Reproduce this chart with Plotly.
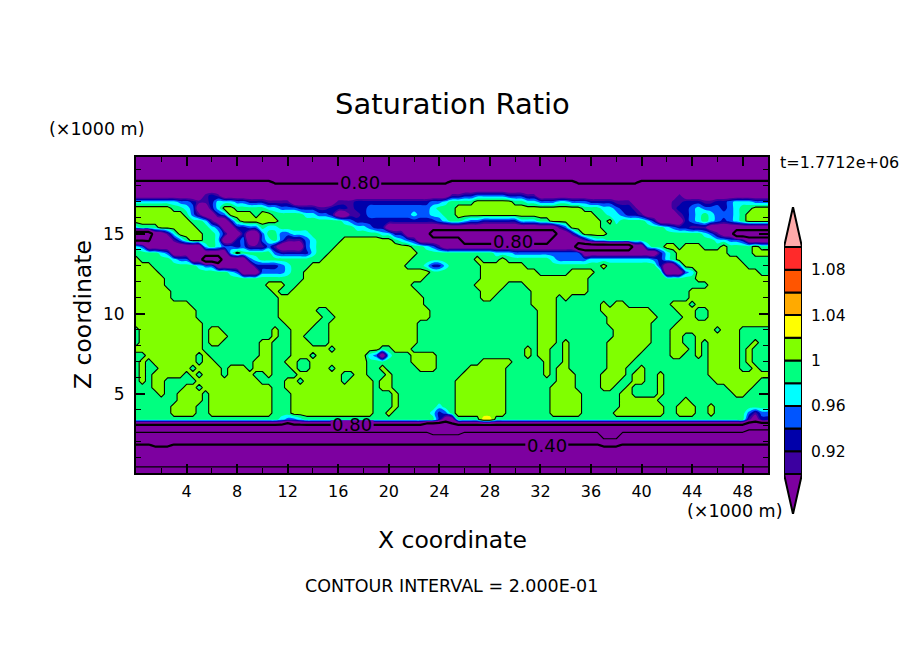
import numpy as np
import plotly.graph_objects as go

# saturation ratio per map letter
LETTER_VALUES = {
    "a": 0.12, "b": 0.17, "c": 0.22, "d": 0.27, "f": 0.33, "g": 0.39, "m": 0.42,
    "h": 0.50, "o": 0.55, "i": 0.60, "q": 0.66, "n": 0.68, "T": 0.72, "j": 0.76,
    "e": 0.79, "E": 0.83, "P": 0.86, "G": 0.91, "H": 0.93, "B": 0.95, "C": 0.97,
    "K": 0.99, "L": 1.01, "Y": 1.03,
}

# one row per height from top to bottom: "<first column><letter>" runs, 101 columns
FIELD_ROWS = [
    "0T", "0T", "0T", "0T",
    "0E 22e 50E 70e 80E",
    "0P",
    "0P 11G 12H 13G 14P 50G 52H 54B 59H 62G 64P 86G 87P",
    "0C 7B 9H 10G 12H 13C 16B 18H 21G 25P 32G 35H 47B 49C 50K 54L 60K 62C 64B 67C 69B 72H 76G 79P 85G 87H 90G 92H 94B 95C 98B",
    "0L 6K 8C 9B 10P 12H 13C 14L 16K 21C 23B 26H 29G 31H 34G 35H 37B 47C 48K 51L 71K 74C 76B 77H 79G 80P 85G 86H 88B 89C 90B 93H 94B 95C 96K 98L",
    "0L 8K 9B 10G 11P 13H 14B 15L 19K 20L 22K 27C 29B 31H 32P 34G 36H 37B 44C 45B 47C 49K 51L 73K 75C 77B 78H 80G 81P 86G 87H 88B 89C 90K 91C 92B 95C 96K 97L",
    "0L 9K 11C 12G 13P 15H 16K 17L 23K 33C 34B 35H 48B 49C 50K 52C 53B 55H 61C 64K 66L 74K 75L 76C 77K 81C 82H 83P 87H 88B 89C 90K 91C 92B 93H 94B 95C 96K 97L",
    "0C 1K 4L 10K 12C 13B 14P 16H 18B 20K 21C 23K 35C 37B 38H 40P 67G 68B 69L 74K 84C 85B 86H 88G 91P",
    "0T 3P 5G 6C 7L 11K 13C 14H 15P 17H 18P 20B 21K 23B 25C 28K 39C 41H 43P 47T 67P 69G 70C 71L 75K 90C 91B 92G 93P 95T",
    "0e 3P 6G 7B 8K 9L 11K 13C 14P 16H 17B 18P 20B 21C 22K 23B 24G 27B 28C 29K 33L 41K 42C 43B 44H 45P 52T 66P 71G 72B 73C 75K 92C 94B 96H 97P",
    "0C 1B 2P 11C 12K 13C 14B 16H 17B 18G 21B 22G 23P 27B 28C 29K 32L 44K 46C 47B 48G 49P 70T 79P 81C 82K 84L 86K 87L 90K 93L 94K 98L 99K",
    "0K 4C 5B 6P 15C 16L 17K 22B 23H 28C 29K 31L 45K 57C 60B 71P 83H 84C 85K 86L 94K 98L",
    "0L 1K 6C 7B 9P 11T 14P 18B 19C 20K 30L 44K 54L 55K 58L 59K 66C 67B 72C 82B 83H 84C 85K 86L 96K",
    "0L 3K 10C 11B 13P 19H 23B 24C 25K 28L 43K 46C 47H 49C 50K 55L 62K 74L 75K 83H 84P 86B 87L 97K",
    "0L 4K 15C 16B 17P 20B 24C 25K 27L 47K 55L 64K 69L 73K 84P 87B 88C 89L 99K",
    "0L 5K 27L 46K 55L 72K 89L",
    "0L 5K 21L 24K 26L 44K 54L 59K 62L 72K 91L",
    "0L 6K 22L 23K 25L 45K 55L 58K 63L 72K 88L",
    "0L 6K 23L 46K 55L 57K 63L 67K 68L 69K 88L",
    "0L 9K 23L 46K 63L 67K 74L 75K 76L 78K 85L 88K 89L",
    "0L 10K 23L 29K 31L 47K 64L 67K 74L 82K 86L 89K 91L",
    "0L 10K 23L 30K 32L 47K 64L 67K 75L 83K 87L 89K 91L",
    "0L 11K 24L 29K 31L 45K 64L 67K 75L 82K 86L",
    "0K 1L 11K 12L 14K 22L 23K 25L 28K 31L 45K 64L 67K 76L 82K 85L 92K 93L 96K",
    "0K 1L 11K 12L 15K 22L 23K 25L 27K 31L 45K 64L 67K 76L 82K 85L 87K 89L 96K",
    "0K 1L 11K 12L 14K 20L 22K 25L 28K 31L 45K 64L 67K 68L 69K 75L 82K 85L 87K 89L 90K 91L 96K 98L 99K",
    "0L 11K 20L 22K 25L 31K 32L 39K 41L 44K 62L 63K 64L 66K 68L 69K 75L 81K 85L 88K 89L 90K 91L 96K 97L 98K",
    "0K 2L 10K 11L 12K 20L 22K 25L 28K 29L 37C 38B 39P 40C 41K 44L 48K 62L 63K 64L 66K 68L 69K 75L 80K 85L 87K 89L 90K 91L 96K 97L 98K",
    "0K 1L 2K 3L 10K 11L 13K 19L 22K 24L 26K 28L 37K 44L 48K 55L 60K 65L 66K 68L 69K 75L 79K 91L 96K 97L 98K",
    "0K 1L 2K 4L 9K 10L 14K 15L 18K 19L 22K 25L 26K 28L 31K 32L 37K 39L 40K 45L 48K 53L 59K 65L 66K 67L 69K 75L 78K 80L 81K 91L 96K 98L 99K",
    "0K 1L 2K 3L 8K 9L 10K 11L 14K 15L 19K 21L 22K 26L 33K 35L 37K 40L 41K 52L 59K 65L 66K 67L 70K 74L 78K 79L 81K 83L 84K 91L",
    "0K 1L 2K 3L 5K 10L 20K 24L 26K 27L 33K 34L 38K 39L 41K 51L 59K 67L 70K 74L 77K 79L 81K 83L 84K 92L 99K",
    "0K 3L 5K 8L 10K 11L 22K 24L 38K 39L 41K 51L 59K 66L 70K 74L 76K 78L 79K 83L 84K 94L 98K",
    "0K 4L 5K 7L 11K 12L 22K 25L 38K 41L 42K 51L 59K 66L 71K 77L 79K 83L 84K 95L 97K",
    "0K 7L 11K 12L 22K 25L 38K 41L 42K 51L 59K 66L 71K 77L 83K 87L 88K",
    "0K 6L 10K 12L 22K 25L 38K 41L 42K 48C 49K 51L 59K 66L 71K 77L 84K 86L 89K 91L 92K",
    "0K 6L 10K 12L 22K 25L 38K 40L 41K 47C 48H 49B 50K 51L 59K 66L 71K 76L 84K 86L 89K 91L 92K 97B 98G 99B",
    "0K 23C 24B 26C 27K 48H 49P 51K 55Y 57K 97G 98P 99H",
    "0j 24n 25j 46n 50j 97n",
    "0i 47q 52i 74q 77i 97o",
    "0h 74i 77h",
    "0g 3m 6g 74m 77g",
    "0f", "0d", "0c", "0b", "0a",
]

X_STEP = 0.5
TOP_HEIGHT = 19.8
ROW_STEP = 0.4

CONTOUR_START = 0.90
CONTOUR_END = 1.10
CONTOUR_STEP = 0.02

BAND_COLORS = [
    "#7D00A0", "#3C00A0", "#0000AA", "#0055FF", "#00FFFF", "#00FF80",
    "#80FF00", "#FFFF00", "#FFAA00", "#FF5500", "#FF2A2A", "#FFAAAA",
]
CELL_LEVELS = [0.90, 0.92, 0.94, 0.96, 0.98, 1.00, 1.02, 1.04, 1.06, 1.08]

THICK_LEVELS = [0.4, 0.8]
THIN_LEVELS = [0.2, 0.6, 1.0]

X_TICKS = [4, 8, 12, 16, 20, 24, 28, 32, 36, 40, 44, 48]
Y_TICKS = [5, 10, 15]
BAR_TICKS = [0.92, 0.96, 1.0, 1.04, 1.08]
BAR_LABELS = ["0.92", "0.96", "1", "1.04", "1.08"]

# inline labels on the contour lines: x, z, text
LINE_LABEL_X = [17.7, 17.1, 32.5, 29.8]
LINE_LABEL_Y = [18.2, 3.1, 1.8, 14.5]
LINE_LABEL_TEXT = ["0.80", "0.80", "0.40", "0.80"]

W, H = 904, 654
FONT = "DejaVu Sans"


def expand_row(row, n_cols=101):
    tokens = row.split()
    values = [0.0] * n_cols
    for i, tok in enumerate(tokens):
        start = int(tok[:-1])
        stop = int(tokens[i + 1][:-1]) if i + 1 < len(tokens) else n_cols
        for c in range(start, stop):
            values[c] = LETTER_VALUES[tok[-1]]
    return values


z = np.array([expand_row(r) for r in FIELD_ROWS])
x = np.arange(z.shape[1]) * X_STEP
y = TOP_HEIGHT - np.arange(z.shape[0]) * ROW_STEP

fig = go.Figure()

fig.add_trace(go.Contour(
    x=x, y=y, z=z,
    autocontour=False,
    contours=dict(start=CONTOUR_START, end=CONTOUR_END, size=CONTOUR_STEP, coloring="fill", showlines=False),
    colorscale=[[i / (len(BAND_COLORS) - 1), c] for i, c in enumerate(BAND_COLORS)],
    line=dict(width=0),
    showscale=False,
    hoverinfo="skip",
))

# black contour lines, thick and thin ones alternate
for levels, width in [(THICK_LEVELS, 2.2), (THIN_LEVELS, 1.1)]:
    for lev in levels:
        fig.add_trace(go.Contour(
            x=x, y=y, z=z,
            autocontour=False,
            contours=dict(start=lev, end=lev, size=1, coloring="none"),
            line=dict(color="black", width=width, smoothing=0),
            showscale=False,
            hoverinfo="skip",
        ))

# colour bar built from its own axes
for lev, color in zip(CELL_LEVELS, BAND_COLORS[1:11]):
    fig.add_trace(go.Bar(
        x=[0], y=[CONTOUR_STEP], base=[lev], width=[1],
        marker=dict(color=color, line=dict(color="black", width=2)),
        xaxis="x2", yaxis="y2", showlegend=False, hoverinfo="skip",
    ))
tip = 0.0353
fig.add_trace(go.Scatter(
    x=[-0.5, 0, 0.5, -0.5], y=[CONTOUR_END, CONTOUR_END + tip, CONTOUR_END, CONTOUR_END],
    mode="lines", fill="toself", fillcolor=BAND_COLORS[-1], line=dict(color="black", width=2),
    xaxis="x2", yaxis="y2", showlegend=False, hoverinfo="skip",
))
fig.add_trace(go.Scatter(
    x=[-0.5, 0, 0.5, -0.5], y=[CONTOUR_START, CONTOUR_START - tip, CONTOUR_START, CONTOUR_START],
    mode="lines", fill="toself", fillcolor=BAND_COLORS[0], line=dict(color="black", width=2),
    xaxis="x2", yaxis="y2", showlegend=False, hoverinfo="skip",
))

axis_common = dict(
    showgrid=False, zeroline=False, showline=True, linecolor="black", linewidth=2,
    mirror="ticks", ticks="inside", ticklen=9, tickwidth=2, tickcolor="black",
    layer="above traces",
)
fig.update_layout(
    width=W, height=H,
    margin=dict(l=0, r=0, t=0, b=0),
    paper_bgcolor="white", plot_bgcolor="white",
    showlegend=False,
    barmode="overlay",
    font=dict(family=FONT, color="black"),
    xaxis=dict(
        domain=[136 / W, 768 / W], range=[0, 50],
        tickmode="array", tickvals=X_TICKS, ticktext=[str(v) for v in X_TICKS],
        ticklabelstandoff=3,
        tickfont=dict(family=FONT, size=16, color="black"),
        minor=dict(ticks="inside", dtick=2, tick0=0, ticklen=5, tickwidth=1, tickcolor="black"),
        **axis_common,
    ),
    yaxis=dict(
        domain=[1 - 473 / H, 1 - 157 / H], range=[0.06, 19.8],
        tickmode="array", tickvals=Y_TICKS, ticktext=[str(v) for v in Y_TICKS],
        ticklabelstandoff=6,
        tickfont=dict(family=FONT, size=17, color="black"),
        minor=dict(ticks="inside", dtick=1, tick0=0, ticklen=5, tickwidth=1, tickcolor="black"),
        **axis_common,
    ),
    xaxis2=dict(
        domain=[784 / W, 802 / W], range=[-0.5, 0.5], anchor="y2", visible=False,
    ),
    yaxis2=dict(
        domain=[1 - 514 / H, 1 - 207 / H], range=[CONTOUR_START - tip, CONTOUR_END + tip],
        anchor="x2", side="right", showgrid=False, zeroline=False, showline=False,
        tickmode="array", tickvals=BAR_TICKS, ticktext=BAR_LABELS, ticks="",
        ticklabelstandoff=8,
        tickfont=dict(family=FONT, size=15.5, color="black"),
    ),
)


def page_text(px, py, text, size, anchor="center", angle=0):
    fig.add_annotation(
        x=px / W, y=1 - py / H, xref="paper", yref="paper", text=text,
        showarrow=False, xanchor=anchor, yanchor="middle", textangle=angle,
        font=dict(family=FONT, size=size, color="black"),
    )


page_text(452, 104, "Saturation Ratio", 29)
page_text(47, 129, "(×1000 m)", 17.5, anchor="left")
page_text(685, 511, "(×1000 m)", 17.5, anchor="left")
page_text(778, 162, "t=1.7712e+06", 16, anchor="left")
page_text(452, 540, "X coordinate", 23.5)
page_text(83, 315, "Z coordinate", 23.5, angle=-90)
page_text(451, 586, "CONTOUR INTERVAL = 2.000E-01", 17.5)

# short purple gap under each label cuts the line without covering what is around it
for lx, ly, lt in zip(LINE_LABEL_X, LINE_LABEL_Y, LINE_LABEL_TEXT):
    fig.add_shape(
        type="rect", xref="x", yref="y", x0=lx - 1.7, x1=lx + 1.7, y0=ly - 0.25, y1=ly + 0.25,
        fillcolor=BAND_COLORS[0], line=dict(width=0), layer="above",
    )
    fig.add_annotation(
        x=lx, y=ly, xref="x", yref="y", text=lt, showarrow=False,
        font=dict(family=FONT, size=18, color="black"),
    )

fig.write_html("out.html", config={"displayModeBar": False}, post_script="document.body.style.margin='0';")
